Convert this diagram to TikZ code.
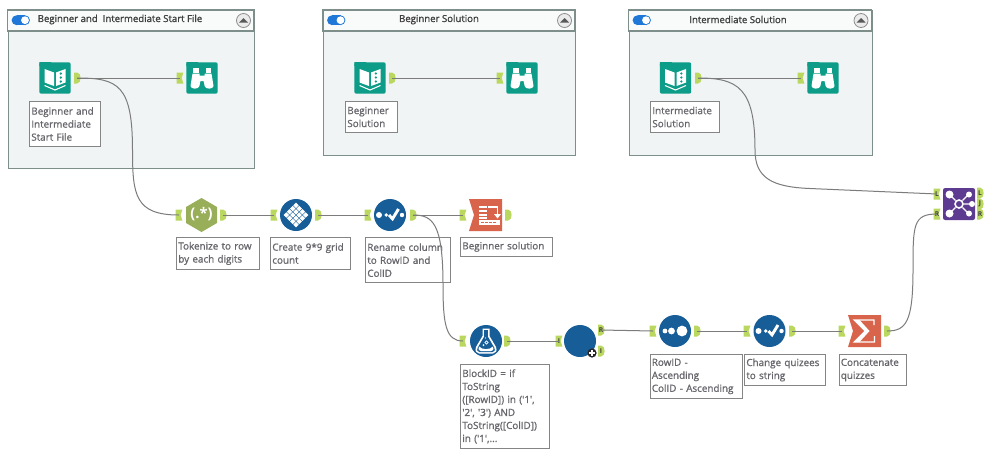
\documentclass[tikz,border=0pt]{standalone}
\usepackage{fontspec}
\setmainfont{Open Sans}
\newfontfamily\notefont[FakeBold=1.0]{Open Sans}
\newfontfamily\titlefont[FakeBold=1.4]{Open Sans}
\hyphenpenalty=10000
\exhyphenpenalty=10000
\usetikzlibrary{calc}
\definecolor{teal}{HTML}{0C9C88}
\definecolor{toolblue}{HTML}{175E99}
\definecolor{toolred}{HTML}{D8644C}
\definecolor{toolpurple}{HTML}{5D3B90}
\definecolor{toololive}{HTML}{99AE58}
\definecolor{portgreen}{HTML}{BAD85F}
\definecolor{panelfill}{HTML}{F0F4F5}
\definecolor{panelline}{HTML}{7E8F8B}
\definecolor{wire}{HTML}{7C7C7C}
\definecolor{labeltext}{HTML}{66666C}
\definecolor{toggleblue}{HTML}{1F78D8}
\tikzset{
  panel/.style={draw=panelline,line width=1.1pt,fill=panelfill,anchor=north west,inner sep=0pt},
  paneltitle/.style={font=\fontsize{7.2}{9}\titlefont,text=black!75,inner sep=0pt},
  notebox/.style={draw=black!48,line width=0.7pt,fill=white,anchor=north west,align=left,inner xsep=1.4pt,inner ysep=0pt,
    font=\fontsize{7.4}{9.75}\notefont,text=labeltext},
  portbase/.style={inner sep=0pt,minimum width=5pt,minimum height=8pt,font=\fontsize{5}{5}\selectfont\bfseries,text=black!75},
  wireline/.style={draw=wire,line width=0.75pt},
  roundtool/.style={circle,fill=toolblue,minimum size=24pt,inner sep=0pt},
  squaretool/.style={fill=teal,rounded corners=1.6pt,minimum size=23.6pt,inner sep=0pt},
}
% Output anchor: flat on the left, rounded on the right
\newcommand{\outport}[3]{%
  \begin{scope}[shift={(#2)}]
    \fill[portgreen] (-3,-5.5) -- (0,-5.5) .. controls (2.6,-5.5) and (3.6,-2.5) .. (3.6,0)
      .. controls (3.6,2.5) and (2.6,5.5) .. (0,5.5) -- (-3,5.5) -- cycle;
  \end{scope}
  \node[portbase] (#1) at (#2) {#3};}
% Input anchor: notched on the right
\newcommand{\inport}[3]{%
  \begin{scope}[shift={(#2)}]
    \fill[portgreen] (-3.4,-5.5) -- (3.4,-5.5) -- (1.6,0) -- (3.4,5.5) -- (-3.4,5.5) -- cycle;
  \end{scope}
  \node[portbase] (#1) at (#2) {#3};}
% Input data tool: open book on a folder
\newcommand{\booktool}[2]{%
  \node[squaretool] (#1) at (#2) {};
  \begin{scope}[shift={(#2)}]
    \fill[teal] (-15.7,-12) -- (-15.7,-15.9) -- (-4,-15.9) -- (-2,-12) -- cycle;
    \fill[white] (-10.5,-9) -- (-1,-5.5) -- (-1,8) -- (-10.5,4.5) -- cycle;
    \fill[white] (1,-5.5) -- (10.5,-9) -- (10.5,4.5) -- (1,8) -- cycle;
    \foreach \dy in {-4.5,-0.5,3.5} \fill[teal] (5.8,\dy) circle (1.3);
    \draw[white,line width=0.8pt] (-10.5,7.5) -- (0,12) -- (10.5,7.5);
  \end{scope}}
% Browse tool: binoculars on a folder
\newcommand{\browsetool}[2]{%
  \node[squaretool] (#1) at (#2) {};
  \begin{scope}[shift={(#2)}]
    \fill[teal] (-15.7,-12) -- (-15.7,-15.9) -- (-4,-15.9) -- (-2,-12) -- cycle;
    \fill[white] (-9,-10) rectangle (-3.5,-5.5);
    \fill[white] (3.5,-10) rectangle (9,-5.5);
    \fill[white] (-9.5,-4.5) -- (-2.5,-4.5) -- (-2.5,-2.5) -- (2.5,-2.5) -- (2.5,-4.5) -- (9.5,-4.5) -- (11.5,8) .. controls (11.5,11.5) and (3,11.5) .. (2.6,8)
      -- (1.6,3) -- (-1.6,3) -- (-2.6,8) .. controls (-3,11.5) and (-11.5,11.5) .. (-11.5,8) -- cycle;
  \end{scope}}
% Container frame with header, switch and collapse button
\newcommand{\container}[7]{% name, left, top, width, height, title x, title
  \node[panel,minimum width=#4*0.75pt,minimum height=#5*0.75pt] (#1) at (#2,#3) {};
  \draw[panelline,line width=0.9pt,fill=white!60!panelfill] (#2,#3) rectangle (#2+#4,31);
  \fill[toggleblue] (#2+9,15.3) rectangle (#2+17.5,25.1);
  \fill[toggleblue] (#2+9,20.2) circle (4.9);
  \fill[toggleblue] (#2+17.5,20.2) circle (4.9);
  \fill[white] (#2+17.5,20.2) circle (3.9);
  \node[paneltitle] (#1title) at (#6,19.5) {#7};
  \draw[black!45,fill=black!8,line width=0.6pt] (#2+#4-10.5,20.5) circle (7);
  \fill[black!65] (#2+#4-15,22.5) -- (#2+#4-10.5,18) -- (#2+#4-6,22.5) -- cycle;
}
\begin{document}
\begin{tikzpicture}[x=0.75pt,y=-0.75pt]
\useasboundingbox (0,0) rectangle (998,458);
\fill[white] (0,0) rectangle (998,458);

% Containers
\container{panelA}{7.5}{10}{246.5}{158}{120}{Beginner and\ \ Intermediate Start File}
\container{panelB}{323}{10}{252}{145}{439}{Beginner Solution}
\container{panelC}{628.5}{10}{243}{145}{738}{Intermediate Solution}

% Tools inside the containers
\booktool{inA}{55,78}
\browsetool{brA}{202,78}
\outport{inAout}{77,78}{}
\inport{brAin}{180,78}{}
\booktool{inB}{370,78}
\browsetool{brB}{522,78}
\outport{inBout}{392,78}{}
\inport{brBin}{500,78}{}
\booktool{inC}{675.5,78}
\browsetool{brC}{823,78}
\outport{inCout}{698,78}{}
\inport{brCin}{801,78}{}

% Regex tool
\fill[toololive] (201.5,198) -- (217,207) -- (217,223) -- (201.5,232) -- (186,223) -- (186,207) -- cycle;
\node[inner sep=0pt,font=\fontsize{11}{12}\selectfont\bfseries,text=white] (regex) at (201.5,214) {(.*)};
\inport{regexin}{179,215}{}
\outport{regexout}{223,215}{}

% Generate-grid tool
\node[roundtool] (grid) at (296,215) {};
\foreach \i in {0,...,3} \foreach \j in {0,...,3}
  \fill[white] ($(296,215)+({(\i-\j)*3.2},{(\i+\j-3)*3.2})$) ++(-2.7,0) -- ++(2.7,-2.7) -- ++(2.7,2.7) -- ++(-2.7,2.7) -- cycle;
\inport{gridin}{274,215}{}
\outport{gridout}{318,215}{}

% Select tool: dots and a tick
\newcommand{\selecttool}[2]{%
  \node[roundtool] (#1) at (#2) {};
  \begin{scope}[shift={(#2)}]
    \fill[white] (-11,0) circle (3);
    \fill[white] (-3.8,0) circle (1.9);
    \fill[white] (12,0) circle (2.2);
    \draw[white,line width=2.2pt] (-1,0) -- (2.5,3.8) -- (8.5,-6);
  \end{scope}}
\selecttool{rename}{390,215}
\inport{renamein}{368,215}{}
\outport{renameout}{413,215}{}

% Report layout tool
\fill[toolred] (469,199) -- (502,199) -- (502,231) -- (469,231) -- (474,215) -- cycle;
\node[inner sep=0pt,minimum size=24pt] (report) at (485.5,215) {};
\begin{scope}[shift={(485.5,215)}]
  \foreach \dy in {-9,-5,-1,1.5} \fill[white] (-6.5,\dy) rectangle (1,\dy+2);
  \draw[white,line width=1.2pt] (2.5,-8) -- (12,-8) -- (12,0);
  \fill[white] (8.5,-1) -- (15.5,-1) -- (12,3.5) -- cycle;
  \fill[white] (-6.5,5) rectangle (14,10);
  \foreach \dx in {-4.5,-0.5,3.5,7.5} \fill[toolred] (\dx,7) rectangle (\dx+3,8);
\end{scope}
\inport{reportin}{463,215}{}
\outport{reportout}{508,215}{}

% Formula tool: flask
\node[roundtool] (flask) at (486,341) {};
\begin{scope}[shift={(486,341)}]
  \fill[white] (-3.5,-12.5) -- (3.5,-12.5) -- (3.5,-5) -- (10,6) .. controls (11.5,10) and (9.5,12.5) .. (7,12.5) -- (-7,12.5)
    .. controls (-9.5,12.5) and (-11.5,10) .. (-10,6) -- (-3.5,-5) -- cycle;
  \fill[toolblue] (-1.8,-11) -- (1.8,-11) -- (1.8,-4.5) -- (8.2,6.5) .. controls (9.5,9.5) and (8.5,11) .. (6.5,11) -- (-6.5,11)
    .. controls (-8.5,11) and (-9.5,9.5) .. (-8.2,6.5) -- (-1.8,-4.5) -- cycle;
  \fill[white] (-7,5.5) .. controls (-4,9) and (4,9) .. (7,5.5) .. controls (8,9) and (7,10) .. (5,10) -- (-5,10) .. controls (-7,10) and (-8,9) .. (-7,5.5) -- cycle;
  \draw[white,line width=0.6pt] (0.5,1.5) circle (1.6);
  \fill[white] (-2.5,4) circle (1);
  \fill[white] (-0.5,-3) circle (0.7);
\end{scope}
\inport{flaskin}{463,341}{}
\outport{flaskout}{507,341}{}

% Macro tool
\node[roundtool] (macro) at (580,341) {};
\inport{macroin}{559,341}{I}
\outport{macroR}{601,330}{R}
\outport{macroI}{601,351}{I}
\fill[black!85] (592,353) circle (4.6);
\draw[white,line width=1.1pt] (589,353) -- (595,353) (592,350) -- (592,356);

% Sort tool: growing dots
\node[roundtool] (sort) at (675,331) {};
\begin{scope}[shift={(675,331)}]
  \fill[white] (-10,0) circle (2.4);
  \fill[white] (-3.5,0) circle (3.4);
  \fill[white] (7,0) circle (5.4);
\end{scope}
\inport{sortin}{653,331}{}
\outport{sortout}{697,331}{}

\selecttool{cast}{769.5,331}
\inport{castin}{747,331}{}
\outport{castout}{792,331}{}

% Summarize tool
\fill[toolred] (848,315) -- (881,315) -- (881,347) -- (848,347) -- (853,331) -- cycle;
\node[inner sep=0pt,minimum size=24pt] (summ) at (864.5,331) {};
\begin{scope}[shift={(864.5,331)}]
  \draw[white,line width=1.1pt,line join=miter] (9.5,-6) -- (9.5,-11) -- (-10,-11) -- (1,0) -- (-10,11) -- (10,11) -- (10,5);
  \fill[white] (-10,-11) -- (-5,-11) -- (5,0) -- (-5,11) -- (-10,11) -- (1,0) -- cycle;
\end{scope}
\inport{summin}{842,331}{}
\outport{summout}{887,331}{}

% Join tool
\node[fill=toolpurple,rounded corners=1.6pt,minimum size=24pt,inner sep=0pt] (join) at (959,204) {};
\begin{scope}[shift={(959,204)}]
  \draw[white,line width=1pt] (-10,-10) -- (10,10) (10,-10) -- (-10,10) (0,0) -- (13,0);
  \fill[toolpurple] (0,0) circle (5);
  \draw[white,line width=1.2pt] (0,0) circle (4);
  \fill[white] (-9.5,-9.5) circle (4);
  \fill[white] (-9.5,9.5) circle (4);
  \fill[white] (10,-9.5) circle (3);
  \fill[white] (10,9.5) circle (3);
  \fill[white] (13,0) circle (3);
\end{scope}
\inport{joinL}{937,194}{L}
\inport{joinR}{937,214}{R}
\outport{joinoutL}{980,193}{L}
\outport{joinoutJ}{980,204}{J}
\outport{joinoutR}{980,214}{R}

% Annotations below the tools
\node[notebox,text width=50.5pt,minimum height=33.75pt] (noteA) at (29,101) {Beginner and\\Intermediate\\Start File};
\node[notebox,text width=36pt,minimum height=23.25pt] (noteB) at (345,101) {Beginner\\Solution};
\node[notebox,text width=49pt,minimum height=23.25pt] (noteC) at (650,101) {Intermediate\\Solution};
\node[notebox,text width=59.5pt,minimum height=24pt] (noteRegex) at (176,237) {Tokenize to row\\by each digits};
\node[notebox,text width=57.5pt,minimum height=24pt] (noteGrid) at (270,237) {Create 9*9 grid\\count};
\node[notebox,text width=61pt,minimum height=34pt] (noteRename) at (365,237) {Rename column\\to RowID and\\ColID};
\node[notebox,text width=66.5pt,minimum height=14pt] (noteReport) at (460,237) {Beginner solution};
\node[notebox,text width=64pt,minimum height=63pt] (noteFlask) at (460,364) {BlockID = if\\ToString\\([RowID]) in ('1',\\'2', '3') AND\\ToString([ColID])\\in ('1',...};
\node[notebox,text width=66.5pt,minimum height=33pt] (noteSort) at (649.5,354) {RowID -\\Ascending\\ColID - Ascending};
\node[notebox,text width=58pt,minimum height=23.25pt] (noteCast) at (744,354) {Change quizees\\to string};
\node[notebox,text width=48pt,minimum height=23.25pt] (noteSum) at (838.5,354) {Concatenate\\quizzes};

% Connections between tools
\coordinate (bendA) at (132.5,150);
\coordinate (bendB) at (443,285);
\coordinate (bendC) at (755,150);
\coordinate (bendD) at (913,270);
\draw[wireline] (inAout.center) -- (brAin.center);
\draw[wireline] (inBout.center) -- (brBin.center);
\draw[wireline] (inCout.center) -- (brCin.center);
\draw[wireline] (inAout.center) .. controls (118,78) and (132.5,85) .. (bendA) .. controls (132.5,195) and (135,215) .. (regexin.center);
\draw[wireline] (regexout.center) -- (gridin.center);
\draw[wireline] (gridout.center) -- (renamein.center);
\draw[wireline] (renameout.center) -- (reportin.center);
\draw[wireline] (renameout.center) .. controls (432,215) and (443,222) .. (bendB) .. controls (443,325) and (446,341) .. (flaskin.center);
\draw[wireline] (flaskout.center) -- (macroin.center);
\draw[wireline] (macroR.center) -- (sortin.center);
\draw[wireline] (sortout.center) -- (castin.center);
\draw[wireline] (castout.center) -- (summin.center);
\draw[wireline] (inCout.center) .. controls (738,78) and (755,88) .. (bendC) .. controls (755,178) and (772,187) .. (810,188.5) -- (joinL.center);
\draw[wireline] (summout.center) .. controls (906,331) and (913,322) .. (bendD) .. controls (913,225) and (913,214) .. (joinR.center);
\end{tikzpicture}
\end{document}
